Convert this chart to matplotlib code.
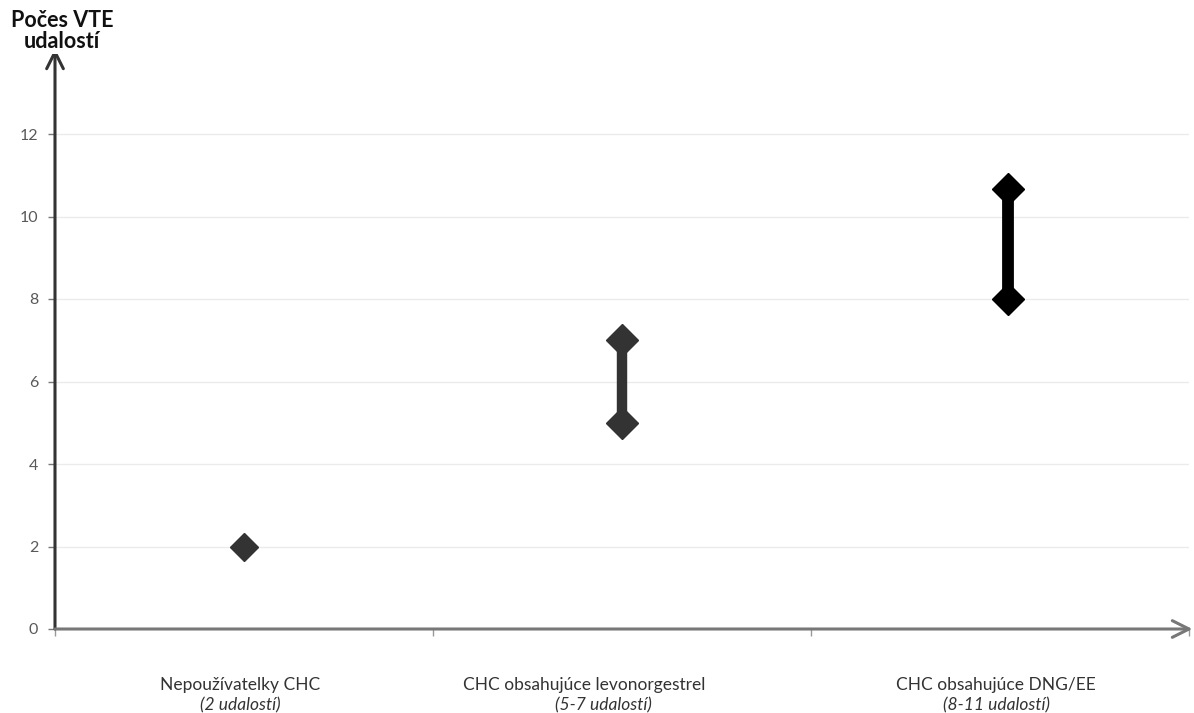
import matplotlib
matplotlib.use("Agg")
import matplotlib.pyplot as plt
from matplotlib.transforms import blended_transform_factory

plt.rcParams['font.family'] = ['Lato', 'DejaVu Sans']

categories = ["Nepoužívatelky CHC", "CHC obsahujúce levonorgestrel", "CHC obsahujúce DNG/EE"]
subtitles = ["(2 udalostí)", "(5-7 udalostí)", "(8-11 udalostí)"]
cat_positions = [0.5, 1.5, 2.52]
low_values = [2, 5, 8]
high_values = [2, 7, 10.67]
colors = ["#333333", "#333333", "#000000"]
line_widths = [0, 7.5, 8.5]
yticks = [0, 2, 4, 6, 8, 10, 12, 14]
ytick_labels = ["0", "2", "4", "6", "8", "10", "12", ""]  # top label hidden under the title
title = "Počes VTE\nudalostí"

fig = plt.figure(figsize=(11.94, 7.13), dpi=100)
ax = fig.add_axes([55/1194, 84/713, 1134/1194, 577.5/713])
ax.set_xlim(0, 3)
ax.set_ylim(0, 14)

for s in ax.spines.values():
    s.set_visible(False)

# gridlines
for y in yticks[1:-1]:
    ax.axhline(y, color="#ebebeb", lw=1.0, zorder=0)

# series
for x, lo, hi, c, lw in zip(cat_positions, low_values, high_values, colors, line_widths):
    if hi != lo:
        ax.plot([x, x], [lo, hi], color=c, lw=lw, solid_capstyle='butt', zorder=3)
        ax.plot([x, x], [lo, hi], linestyle='none', marker='D', ms=16, color=c, zorder=4)
    else:
        ax.plot([x], [lo], linestyle='none', marker='D', ms=14, color=c, zorder=4)

# ticks
ax.set_yticks(yticks)
ax.set_yticklabels(ytick_labels, fontsize=11.5, color="#595959")
ax.tick_params(axis='y', length=5, width=1, color="#777777", pad=7)
ax.set_xticks([0, 1, 2, 3])
ax.set_xticklabels([])
ax.tick_params(axis='x', length=5, width=1, color="#999999")

# axes with arrows
ax.annotate("", xy=(0, 1.005), xytext=(0, 0), xycoords='axes fraction',
            arrowprops=dict(arrowstyle='->,head_length=1.2,head_width=0.6', color="#333333", lw=2.2,
                            shrinkA=0, shrinkB=0), zorder=5, annotation_clip=False)
ax.annotate("", xy=(1.003, 0), xytext=(0, 0), xycoords='axes fraction',
            arrowprops=dict(arrowstyle='->,head_length=1.2,head_width=0.6', color="#777777", lw=2.2,
                            shrinkA=0, shrinkB=0), zorder=5, annotation_clip=False)

# category labels
trans = blended_transform_factory(ax.transData, fig.transFigure)
label_x = [0.49, 1.4, 2.49]
sub_x = [0.49, 1.45, 2.49]
for lx, sx, cat, sub in zip(label_x, sub_x, categories, subtitles):
    ax.text(lx, 1 - 685/713, cat, transform=trans, ha='center', va='center',
            fontsize=12.5, color="#333333")
    ax.text(sx, 1 - 705/713, sub, transform=trans, ha='center', va='center',
            fontsize=12.5, color="#333333", style='italic')

# y title
fig.text(62/1194, 1 - 31/713, title, ha='center', va='center', fontsize=15.5,
         fontweight='bold', color="#111111", linespacing=0.95, zorder=10,
         bbox=dict(facecolor='white', edgecolor='none', pad=2))

fig.savefig("out.png", dpi=100, facecolor='white')
